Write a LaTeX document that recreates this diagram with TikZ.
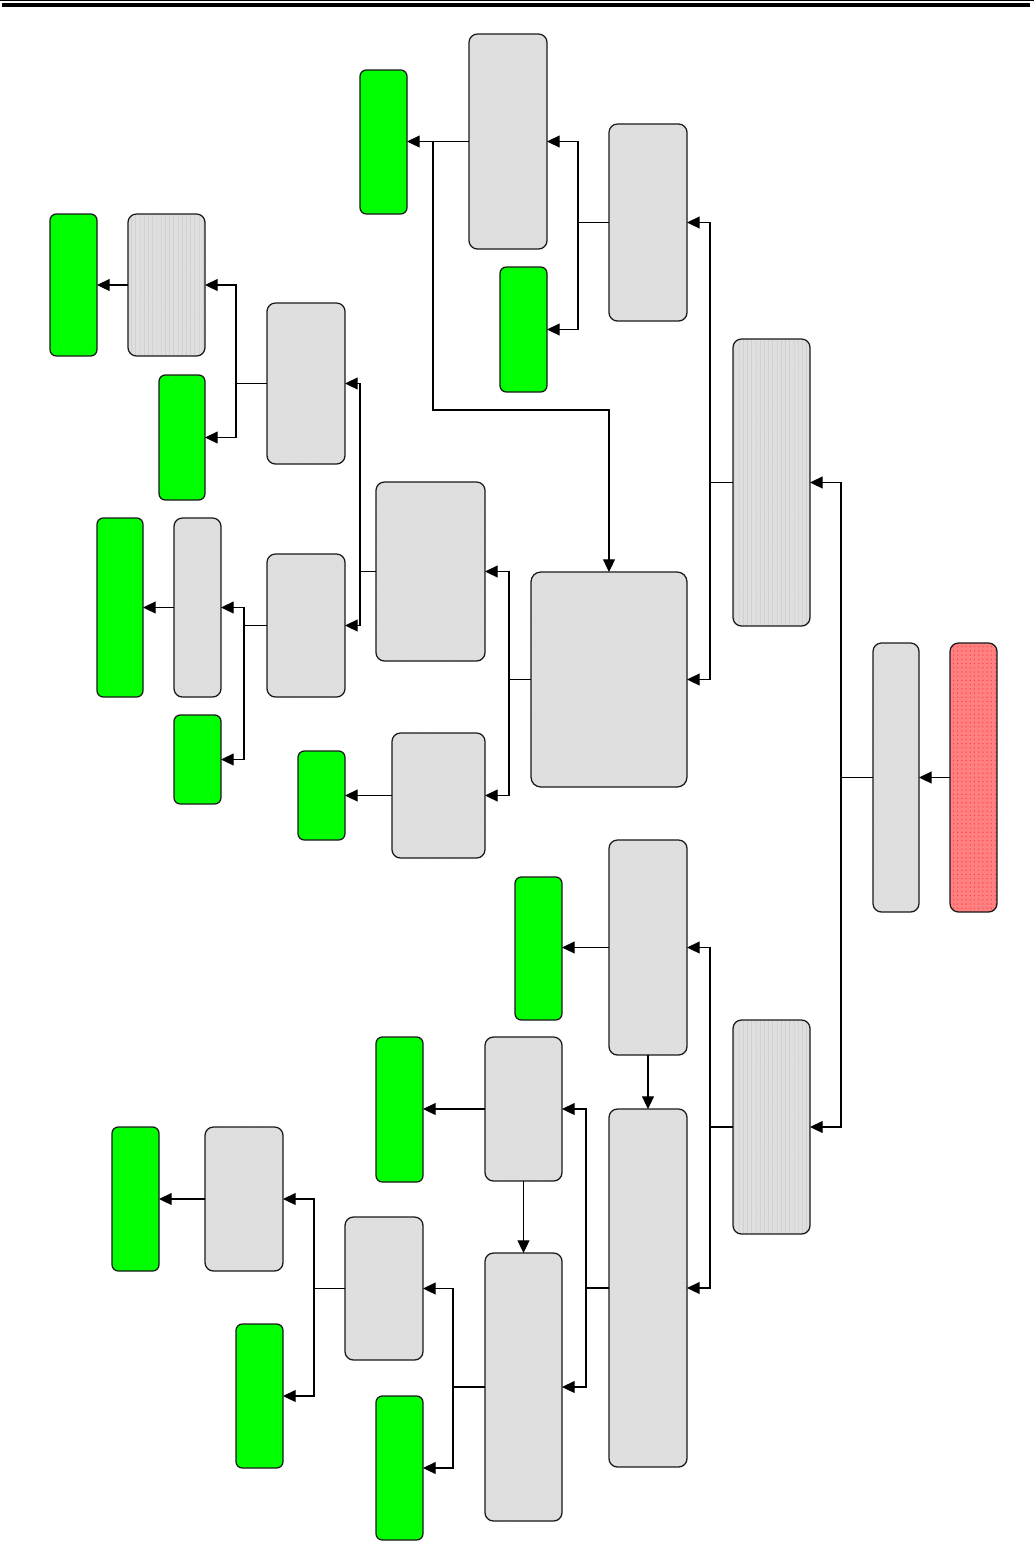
\documentclass[tikz,border=0pt]{standalone}
\usepackage{tikz}
\usetikzlibrary{arrows.meta,positioning,patterns}
\definecolor{stagegray}{RGB}{223,223,223}
\definecolor{leafgreen}{RGB}{0,255,0}
\definecolor{sourcered}{RGB}{255,128,128}

\tikzset{
    boxsize/.style 2 args={minimum width=#1*0.025cm, minimum height=#2*0.025cm},
    block/.style={rounded corners=6pt, inner sep=0pt, outer sep=0pt},
    outline/.style={postaction={draw=black!90, line width=0.9pt}},
    stage/.style={block, fill=stagegray, postaction={pattern=dots, pattern color=black!14}, outline},
    stagestriped/.style={block, fill=stagegray, postaction={pattern=vertical lines, pattern color=black!18},
        postaction={pattern=dots, pattern color=black!14}, outline},
    leaf/.style={block, rounded corners=4.5pt, fill=leafgreen, outline},
    source/.style={block, fill=sourcered, postaction={pattern=dots, pattern color=red!75}, outline},
    link/.style={line width=0.8pt, black},
    feed/.style={link, -{Triangle[length=9pt,width=8.5pt]}}
}

\begin{document}
\begin{tikzpicture}[x=0.025cm, y=-0.025cm]
    \useasboundingbox (0,0) rectangle (1034,1541);

    % page rule
    \draw[line width=0.6pt] (0,0.6) -- (1034,0.6);
    \fill (2,3) rectangle (1030,6.7);

    % right column
    \node[source, boxsize={47}{269}] (src) at (973.5,777.5) {};
    \node[stage, boxsize={46}{269}] (root) at (896,777.5) {};
    \node[stagestriped, boxsize={77}{287}] (trunkA) at (771.5,482.5) {};
    \node[stagestriped, boxsize={77}{214}] (trunkB) at (771.5,1127) {};

    % upper branch
    \node[stage, boxsize={78}{197}] (splitA) at (648,222.5) {};
    \node[stage, boxsize={78}{215}] (topA) at (508,141.5) {};
    \node[leaf, boxsize={47}{144}] (leafA) at (383.5,142) {};
    \node[leaf, boxsize={47}{125}] (leafB) at (523.5,329.5) {};
    \node[stage, rounded corners=7pt, boxsize={156}{215}] (core) at (609,679.5) {};
    \node[stage, boxsize={109}{179}] (midA) at (430.5,571.5) {};
    \node[stage, boxsize={93}{125}] (midB) at (438.5,795.5) {};
    \node[leaf, boxsize={47}{89}] (leafC) at (321.5,795.5) {};
    \node[stage, boxsize={78}{161}] (lowA) at (306,383.5) {};
    \node[stage, boxsize={78}{143}] (lowB) at (306,625.5) {};
    \node[stagestriped, boxsize={77}{142}] (strip) at (166.5,285) {};
    \node[leaf, boxsize={47}{142}] (leafD) at (73.5,285) {};
    \node[leaf, boxsize={46}{125}] (leafE) at (182,437.5) {};
    \node[stage, boxsize={47}{179}] (slimA) at (197.5,607.5) {};
    \node[leaf, boxsize={46}{179}] (leafF) at (120,607.5) {};
    \node[leaf, boxsize={47}{89}] (leafG) at (197.5,759.5) {};

    % lower branch
    \node[stage, boxsize={78}{215}] (splitB) at (648,947.5) {};
    \node[leaf, boxsize={47}{143}] (leafH) at (538.5,948.5) {};
    \node[stage, boxsize={78}{358}] (tallB) at (648,1288) {};
    \node[stage, boxsize={77}{144}] (stepA) at (523.5,1109) {};
    \node[leaf, boxsize={47}{145}] (leafI) at (399.5,1109.5) {};
    \node[stage, boxsize={77}{268}] (stepB) at (523.5,1387) {};
    \node[stage, boxsize={78}{143}] (stepC) at (384,1288.5) {};
    \node[leaf, boxsize={47}{144}] (leafJ) at (399.5,1468) {};
    \node[stage, boxsize={78}{144}] (stepD) at (244,1199) {};
    \node[leaf, boxsize={47}{144}] (leafK) at (135.5,1199) {};
    \node[leaf, boxsize={47}{144}] (leafL) at (259.5,1396) {};

    % junctions
    \coordinate (jr) at (841,777.5);
    \coordinate (ja) at (710,482.5);
    \coordinate (jb) at (578,222.5);
    \coordinate (tap) at (433,141.5);
    \coordinate (bend) at (433,410);
    \coordinate (jc) at (509,679.5);
    \coordinate (jd) at (360,571.5);
    \coordinate (je) at (236,383.5);
    \coordinate (jf) at (244,625.5);
    \coordinate (jg) at (710,1127);
    \coordinate (jh) at (586,1288);
    \coordinate (ji) at (453,1387);
    \coordinate (jk) at (314,1288.5);

    \draw[feed] (src.west) -- (root.east);
    \draw[link] (root.west) -- (jr);
    \draw[feed] (jr) |- (trunkA.east);
    \draw[feed] (jr) |- (trunkB.east);

    \draw[link] (trunkA.west) -- (ja);
    \draw[feed] (ja) |- (splitA.east);
    \draw[feed] (ja) |- (core.east);
    \draw[link] (splitA.west) -- (jb);
    \draw[feed] (jb) |- (topA.east);
    \draw[feed] (jb) |- (leafB.east);
    \draw[feed] (topA.west) -- (topA.west -| leafA.east);
    \draw[feed] (tap) -- (bend) -| (core.north);

    \draw[link] (core.west) -- (jc);
    \draw[feed] (jc) |- (midA.east);
    \draw[feed] (jc) |- (midB.east);
    \draw[feed] (midB.west) -- (midB.west -| leafC.east);
    \draw[link] (midA.west) -- (jd);
    \draw[feed] (jd) |- (lowA.east);
    \draw[feed] (jd) |- (lowB.east);
    \draw[link] (lowA.west) -- (je);
    \draw[feed] (je) |- (strip.east);
    \draw[feed] (je) |- (leafE.east);
    \draw[feed] (strip.west) -- (strip.west -| leafD.east);
    \draw[link] (lowB.west) -- (jf);
    \draw[feed] (jf) |- (slimA.east);
    \draw[feed] (jf) |- (leafG.east);
    \draw[feed] (slimA.west) -- (slimA.west -| leafF.east);

    \draw[link] (trunkB.west) -- (jg);
    \draw[feed] (jg) |- (splitB.east);
    \draw[feed] (jg) |- (tallB.east);
    \draw[feed] (splitB.west) -- (splitB.west -| leafH.east);
    \draw[feed] (splitB.south) -- (tallB.north);
    \draw[link] (tallB.west) -- (jh);
    \draw[feed] (jh) |- (stepA.east);
    \draw[feed] (jh) |- (stepB.east);
    \draw[feed] (stepA.west) -- (stepA.west -| leafI.east);
    \draw[feed] (stepA.south) -- (stepB.north);
    \draw[link] (stepB.west) -- (ji);
    \draw[feed] (ji) |- (stepC.east);
    \draw[feed] (ji) |- (leafJ.east);
    \draw[link] (stepC.west) -- (jk);
    \draw[feed] (jk) |- (stepD.east);
    \draw[feed] (jk) |- (leafL.east);
    \draw[feed] (stepD.west) -- (stepD.west -| leafK.east);
\end{tikzpicture}
\end{document}
